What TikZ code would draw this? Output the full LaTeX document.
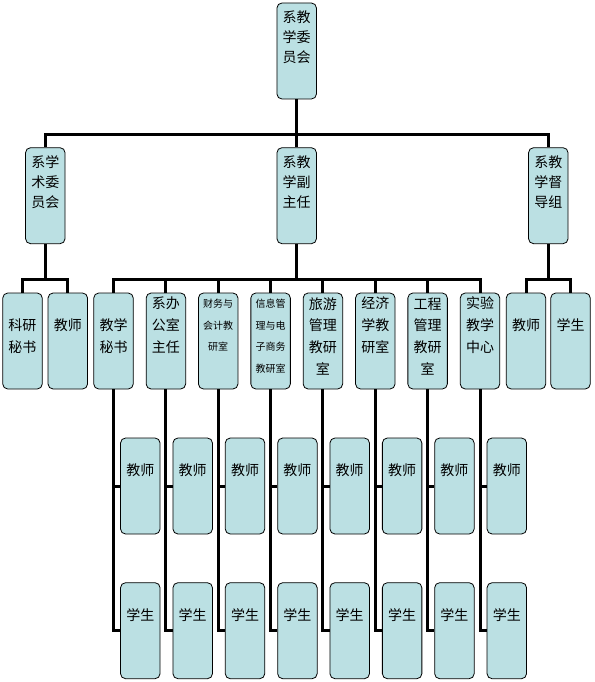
\documentclass[tikz,border=0pt]{standalone}
\usepackage{fontspec}
\newfontfamily\cjk{Noto Sans CJK SC}
\definecolor{boxblue}{RGB}{187,224,227}
\begin{document}
\begin{tikzpicture}[x=1pt,y=-1pt]
    \tikzstyle{box}=[draw=black,fill=boxblue,rounded corners=5pt,line width=0.8pt,minimum width=39.5pt,minimum height=96pt,inner sep=0pt]
    \tikzstyle{lines}=[line width=3pt]
    \tikzstyle{big}=[font=\cjk\fontsize{14}{20}\selectfont,align=center,inner sep=0pt]
    \tikzstyle{mid}=[font=\cjk\fontsize{14}{21.7}\selectfont,align=center,inner sep=0pt]
    \tikzstyle{small}=[font=\cjk\fontsize{10}{21.7}\selectfont,align=center,inner sep=0pt]
    \useasboundingbox (0,0) rectangle (594,682);

    \node[box] (xjw) at (296.7,51) {};
    \node[big] (xjw-t) at ([yshift=14pt]xjw.center) {系教\\学委\\员会};
    \node[box] (xsw) at (45.3,195.7) {};
    \node[big] (xsw-t) at ([yshift=14pt]xsw.center) {系学\\术委\\员会};
    \node[box] (fzr) at (296.7,195.7) {};
    \node[big] (fzr-t) at ([yshift=14pt]fzr.center) {系教\\学副\\主任};
    \node[box] (ddz) at (548.3,195.7) {};
    \node[big] (ddz-t) at ([yshift=14pt]ddz.center) {系教\\学督\\导组};

    \node[box] (kyms) at (22.5,341) {};
    \node[mid] (kyms-t) at ([yshift=4.8pt]kyms.center) {科研\\秘书};
    \node[box] (jsL) at (67.8,341) {};
    \node[mid] (jsL-t) at ([yshift=15.7pt]jsL.center) {教师};
    \node[box] (jxms) at (113.5,341) {};
    \node[mid] (jxms-t) at ([yshift=4.8pt]jxms.center) {教学\\秘书};
    \node[box] (bgs) at (165.9,341) {};
    \node[mid] (bgs-t) at ([yshift=15.7pt]bgs.center) {系办\\公室\\主任};
    \node[box] (cwkj) at (218.2,341) {};
    \node[small] (cwkj-t) at ([yshift=15.7pt]cwkj.center) {财务与\\会计教\\研室};
    \node[box] (xxgl) at (270.6,341) {};
    \node[small] (xxgl-t) at ([yshift=4.8pt]xxgl.center) {信息管\\理与电\\子商务\\教研室};
    \node[box] (lygl) at (322.9,341) {};
    \node[mid] (lygl-t) at ([yshift=4.8pt]lygl.center) {旅游\\管理\\教研\\室};
    \node[box] (jjx) at (375.3,341) {};
    \node[mid] (jjx-t) at ([yshift=15.7pt]jjx.center) {经济\\学教\\研室};
    \node[box] (gcgl) at (427.6,341) {};
    \node[mid] (gcgl-t) at ([yshift=4.8pt]gcgl.center) {工程\\管理\\教研\\室};
    \node[box] (syzx) at (480,341) {};
    \node[mid] (syzx-t) at ([yshift=15.7pt]syzx.center) {实验\\教学\\中心};
    \node[box] (jsR) at (526,341) {};
    \node[mid] (jsR-t) at ([yshift=15.7pt]jsR.center) {教师};
    \node[box] (xsR) at (570.5,341) {};
    \node[mid] (xsR-t) at ([yshift=15.7pt]xsR.center) {学生};

    \coordinate (bus1) at (296.7,134.7);
    \coordinate (busL) at (45.3,279.4);
    \coordinate (bus2) at (296.7,279.4);
    \coordinate (busR) at (548.3,279.4);

    \draw[lines] (xjw.south) -- (bus1) -| (xsw.north);
    \draw[lines] (bus1) -| (ddz.north);
    \draw[lines] (bus1) -- (fzr.north);
    \draw[lines] (xsw.south) -- (busL) -| (kyms.north);
    \draw[lines] (busL) -| (jsL.north);
    \draw[lines] (ddz.south) -- (busR) -| (jsR.north);
    \draw[lines] (busR) -| (xsR.north);
    \draw[lines] (fzr.south) -- (bus2);
    \foreach \n in {jxms,bgs,cwkj,xxgl,lygl,jjx,gcgl,syzx}
        \draw[lines] (bus2) -| (\n.north);

    \foreach \n/\x in {jxms/113.5,bgs/165.9,cwkj/218.2,xxgl/270.6,lygl/322.9,jjx/375.3,gcgl/427.6,syzx/480}{
        \node[box] (\n-js) at (\x+26.8,486) {};
        \node[mid] (\n-jst) at ([yshift=15.5pt]\n-js.center) {教师};
        \node[box] (\n-xs) at (\x+26.8,630.7) {};
        \node[mid] (\n-xst) at ([yshift=15.5pt]\n-xs.center) {学生};
        \draw[lines] (\n.south) |- (\n-js.west);
        \draw[lines] (\n.south) |- (\n-xs.west);
    }
\end{tikzpicture}
\end{document}
